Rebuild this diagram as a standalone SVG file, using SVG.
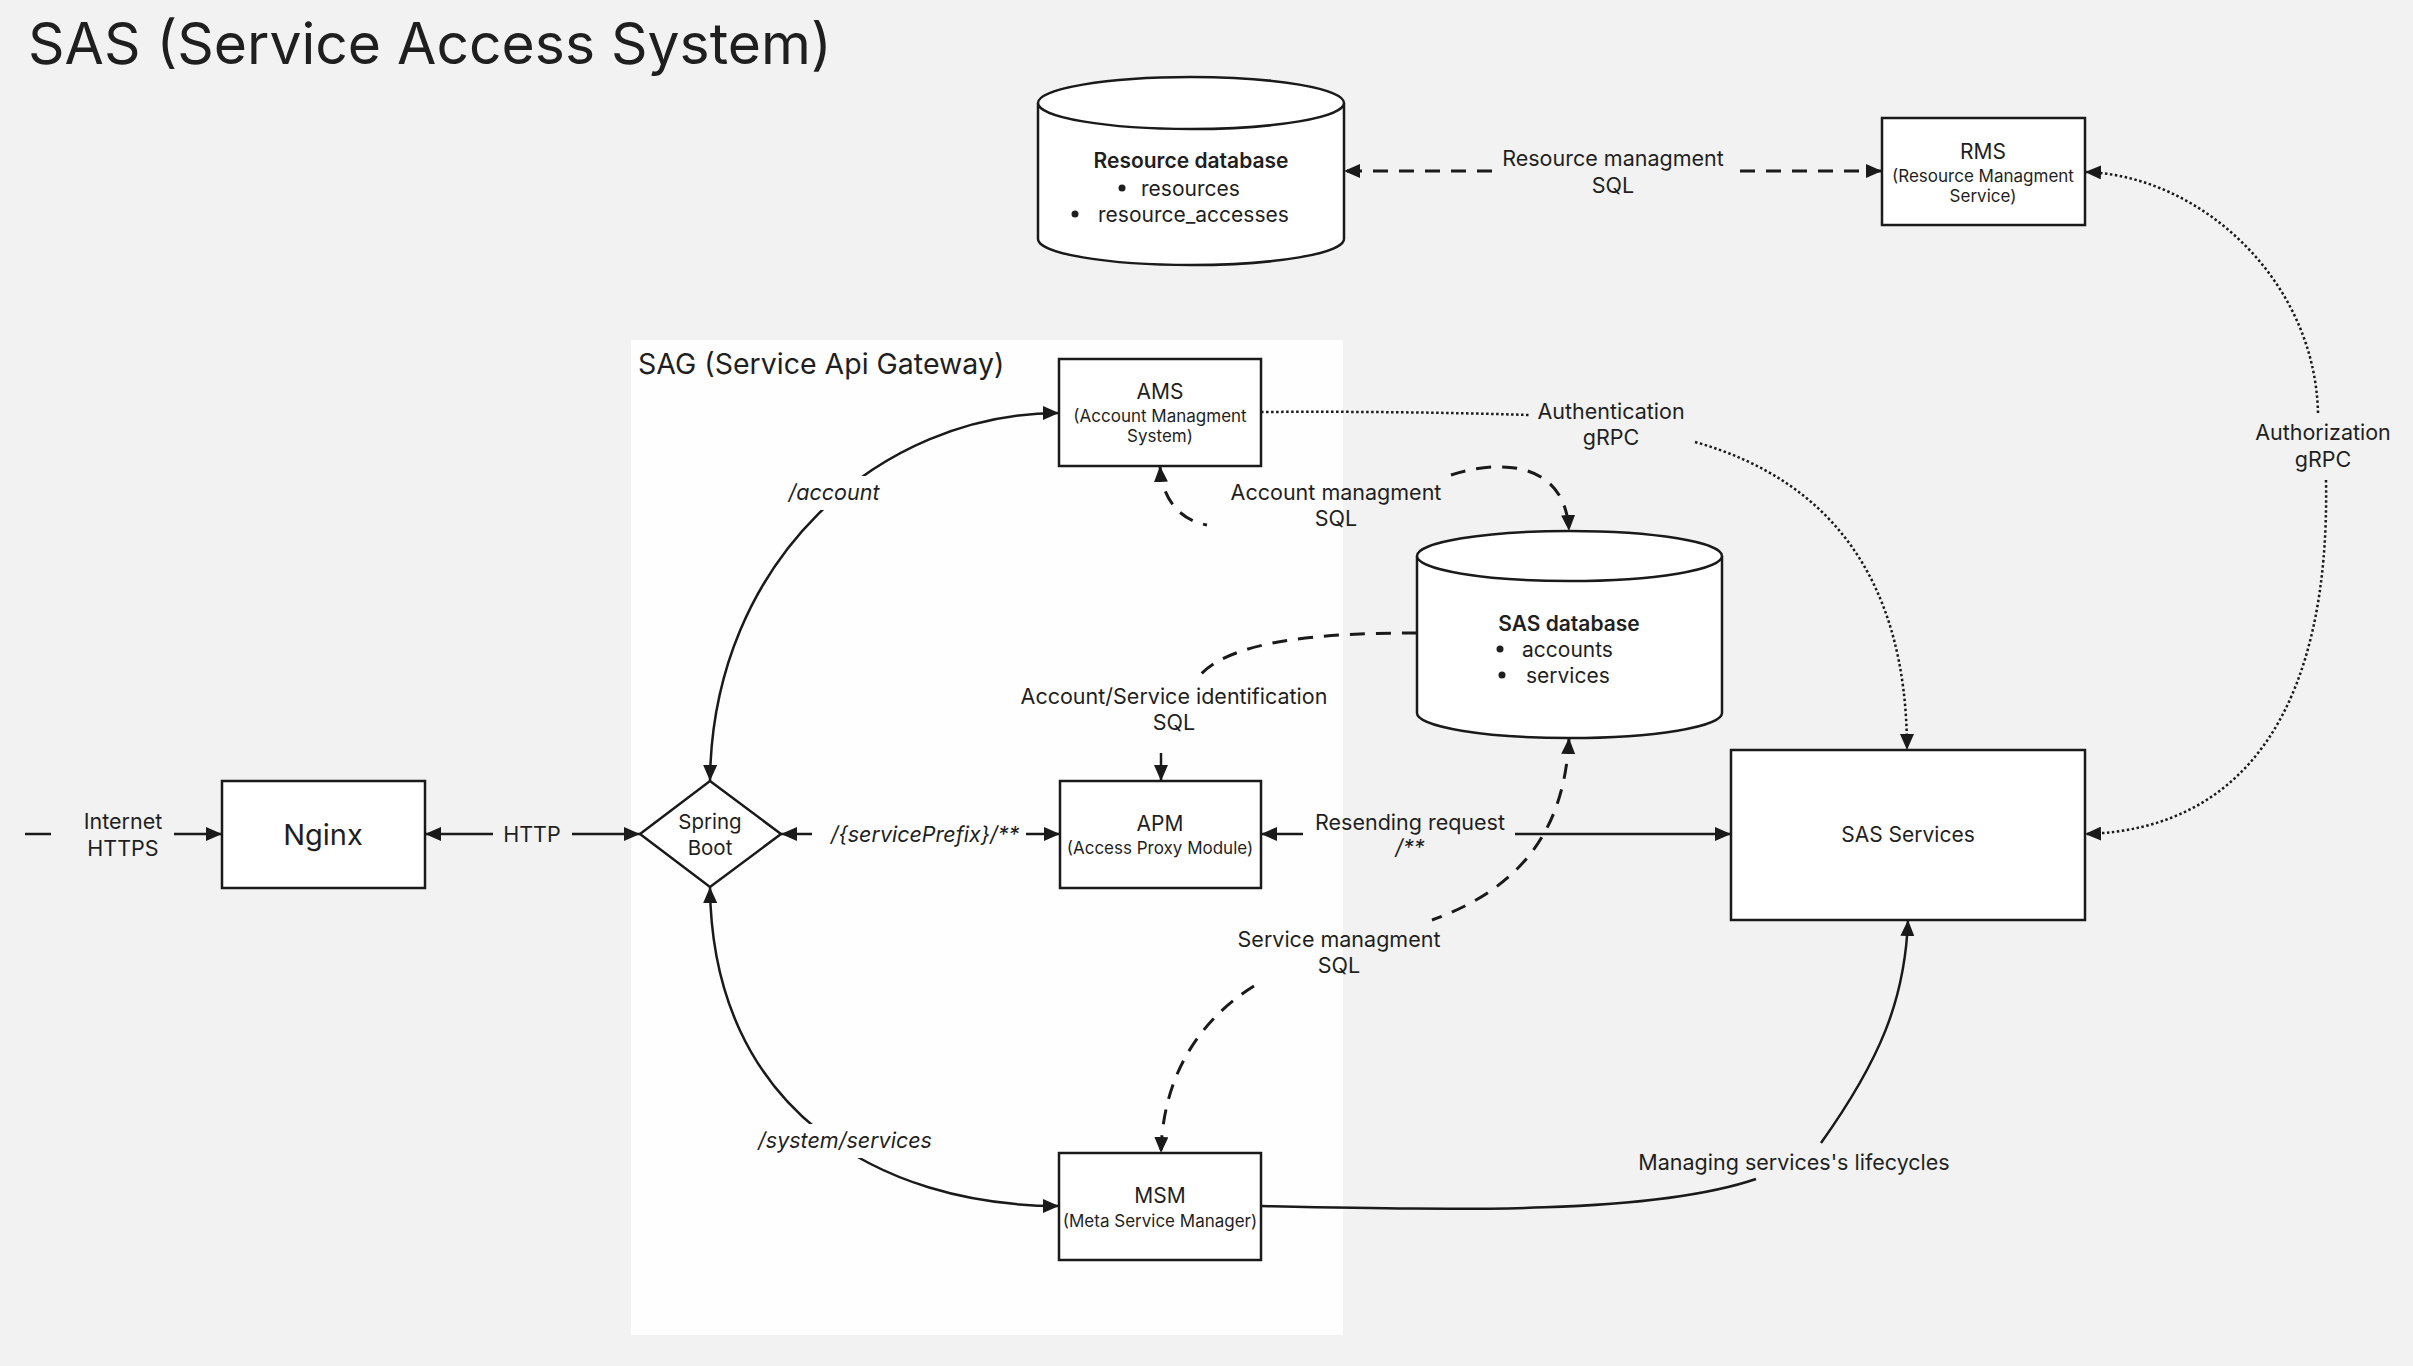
<svg xmlns="http://www.w3.org/2000/svg" width="2413" height="1366" viewBox="0 0 2413 1366">
<defs>
<marker id="arr" markerUnits="userSpaceOnUse" markerWidth="16" markerHeight="14" viewBox="0 0 16 14" refX="16" refY="7" orient="auto-start-reverse">
<path d="M0 0 L16 7 L0 14 Z" fill="#1a1a1a"/>
</marker>
<style>
text{font-family:Inter,"Liberation Sans",Arial,sans-serif;fill:#1f1f1f;dominant-baseline:central;text-anchor:middle}
.box{fill:#fff;stroke:#1a1a1a;stroke-width:2.5}
.name{font-size:21px}
.sub{font-size:17px}
.lbl{font-size:21.5px}
.it{font-style:italic}
.bold{font-weight:600}
.ln{fill:none;stroke:#1a1a1a}
.solid{stroke-width:2.5}
.dash{stroke-width:3;stroke-dasharray:15 11}
.dot{stroke-width:2.5;stroke-dasharray:2.5 2.5}
</style>
</defs>
<rect x="0" y="0" width="2413" height="1366" fill="#f2f2f2"/>
<text x="28" y="43" style="font-size:57px;text-anchor:start">SAS (Service Access System)</text>

<g id="sag">
<rect x="631" y="340" width="712" height="995" fill="#fefefe"/>
<text x="638" y="363" style="font-size:28.5px;text-anchor:start">SAG (Service Api Gateway)</text>
</g>

<g id="resource-db">
<path d="M1038 103 V239 A153 26 0 0 0 1344 239 V103" fill="#fff" stroke="#1a1a1a" stroke-width="2.5"/>
<ellipse cx="1191" cy="103" rx="153" ry="26" fill="#fff" stroke="#1a1a1a" stroke-width="2.5"/>
<text x="1191" y="160" class="bold" style="font-size:21px">Resource database</text>
<circle cx="1122" cy="188" r="3.5" fill="#1f1f1f"/>
<text x="1141" y="188" style="text-anchor:start;font-size:21px">resources</text>
<circle cx="1075" cy="214" r="3.5" fill="#1f1f1f"/>
<text x="1098" y="214" style="text-anchor:start;font-size:21px">resource_accesses</text>
</g>

<g id="rms">
<rect class="box" x="1882" y="118" width="203" height="107"/>
<text x="1983" y="151" class="name">RMS</text>
<text x="1983" y="176" class="sub">(Resource Managment</text>
<text x="1983" y="196" class="sub">Service)</text>
</g>

<g id="ams">
<rect class="box" x="1059" y="359" width="202" height="107"/>
<text x="1160" y="391" class="name">AMS</text>
<text x="1160" y="416" class="sub">(Account Managment</text>
<text x="1160" y="436" class="sub">System)</text>
</g>

<g id="sas-db">
<path d="M1417 556 V713 A152.5 25 0 0 0 1722 713 V556" fill="#fff" stroke="#1a1a1a" stroke-width="2.5"/>
<ellipse cx="1569.5" cy="556" rx="152.5" ry="25" fill="#fff" stroke="#1a1a1a" stroke-width="2.5"/>
<text x="1569" y="623" class="bold" style="font-size:21px">SAS database</text>
<circle cx="1500" cy="649" r="3.5" fill="#1f1f1f"/>
<text x="1522" y="649" style="text-anchor:start;font-size:21px">accounts</text>
<circle cx="1502" cy="675" r="3.5" fill="#1f1f1f"/>
<text x="1526" y="675" style="text-anchor:start;font-size:21px">services</text>
</g>

<g id="nginx">
<rect class="box" x="222" y="781" width="203" height="107"/>
<text x="323" y="834" style="font-size:29px">Nginx</text>
</g>

<g id="spring-boot">
<path d="M710 781 L781 834 L710 887 L640 834 Z" fill="#fff" stroke="#1a1a1a" stroke-width="2.5"/>
<text x="710" y="821" style="font-size:20.5px">Spring</text>
<text x="710" y="847" style="font-size:20.5px">Boot</text>
</g>

<g id="apm">
<rect class="box" x="1060" y="781" width="201" height="107"/>
<text x="1160" y="823" class="name">APM</text>
<text x="1160" y="848" class="sub">(Access Proxy Module)</text>
</g>

<g id="sas-services">
<rect class="box" x="1731" y="750" width="354" height="170"/>
<text x="1908" y="834" class="name">SAS Services</text>
</g>

<g id="msm">
<rect class="box" x="1059" y="1153" width="202" height="107"/>
<text x="1160" y="1195" class="name">MSM</text>
<text x="1160" y="1221" class="sub">(Meta Service Manager)</text>
</g>

<g id="connectors">
<path class="ln solid" d="M25 834 H51"/>
<path class="ln solid" d="M174 834 H222" marker-end="url(#arr)"/>
<text x="123" y="821" class="lbl">Internet</text>
<text x="123" y="848" class="lbl">HTTPS</text>
<path class="ln solid" d="M493 834 H425" marker-end="url(#arr)"/>
<path class="ln solid" d="M572 834 H640" marker-end="url(#arr)"/>
<text x="532" y="834" class="lbl">HTTP</text>
<path class="ln solid" d="M812 834 H781" marker-end="url(#arr)"/>
<path class="ln solid" d="M1026 834 H1060" marker-end="url(#arr)"/>
<text x="925" y="834" class="lbl it">/{servicePrefix}/**</text>
<path class="ln solid" d="M1303 834 H1261" marker-end="url(#arr)"/>
<path class="ln solid" d="M1515 834 H1731" marker-end="url(#arr)"/>
<text x="1410" y="822" class="lbl">Resending request</text>
<text x="1410" y="847" class="lbl it">/**</text>
<path class="ln solid" d="M710 781 C712 560 880 413 1059 413" marker-start="url(#arr)" marker-end="url(#arr)"/>
<rect x="784" y="476" width="100" height="34" fill="#fefefe"/>
<text x="834" y="492" class="lbl it">/account</text>
<path class="ln solid" d="M710 887 C712 1110 880 1206 1059 1206" marker-start="url(#arr)" marker-end="url(#arr)"/>
<rect x="758" y="1124" width="174" height="34" fill="#fefefe"/>
<text x="845" y="1140" class="lbl it">/system/services</text>
<path class="ln dot" d="M1261 412 Q1400 411 1530 415"/>
<path class="ln dot" d="M1695 442 C1830 480 1907 580 1907 750" marker-end="url(#arr)"/>
<text x="1611" y="411" class="lbl">Authentication</text>
<text x="1611" y="437" class="lbl">gRPC</text>
<path class="ln dash" d="M1160 466 C1162 500 1180 520 1207 525" marker-start="url(#arr)"/>
<path class="ln dash" d="M1451 475 C1490 462 1565 455 1569 531" marker-end="url(#arr)"/>
<text x="1336" y="492" class="lbl">Account managment</text>
<text x="1336" y="518" class="lbl">SQL</text>
<path class="ln dash" d="M1417 633 C1320 633 1225 640 1196 680"/>
<path class="ln solid" d="M1161 753 V781" marker-end="url(#arr)"/>
<text x="1174" y="696" class="lbl">Account/Service identification</text>
<text x="1174" y="722" class="lbl">SQL</text>
<path class="ln dash" d="M1569 738 C1565 820 1530 885 1432 920" marker-start="url(#arr)"/>
<path class="ln dash" d="M1254 986 C1215 1010 1163 1060 1161 1153" marker-end="url(#arr)"/>
<text x="1339" y="939" class="lbl">Service managment</text>
<text x="1339" y="965" class="lbl">SQL</text>
<path class="ln solid" d="M1261 1206 C1450 1210 1650 1215 1756 1179"/>
<path class="ln solid" d="M1821 1143 C1880 1060 1905 1000 1908 920" marker-end="url(#arr)"/>
<text x="1794" y="1162" class="lbl">Managing services's lifecycles</text>
<path class="ln dash" d="M1492 171 H1344" marker-end="url(#arr)"/>
<path class="ln dash" d="M1740 171 H1882" marker-end="url(#arr)"/>
<text x="1613" y="158" class="lbl">Resource managment</text>
<text x="1613" y="185" class="lbl">SQL</text>
<path class="ln dot" d="M2318 413 C2315 280 2200 175 2085 172" marker-end="url(#arr)"/>
<path class="ln dot" d="M2326 480 C2330 700 2250 830 2085 834" marker-end="url(#arr)"/>
<text x="2323" y="432" class="lbl">Authorization</text>
<text x="2323" y="459" class="lbl">gRPC</text>
</g>
</svg>
